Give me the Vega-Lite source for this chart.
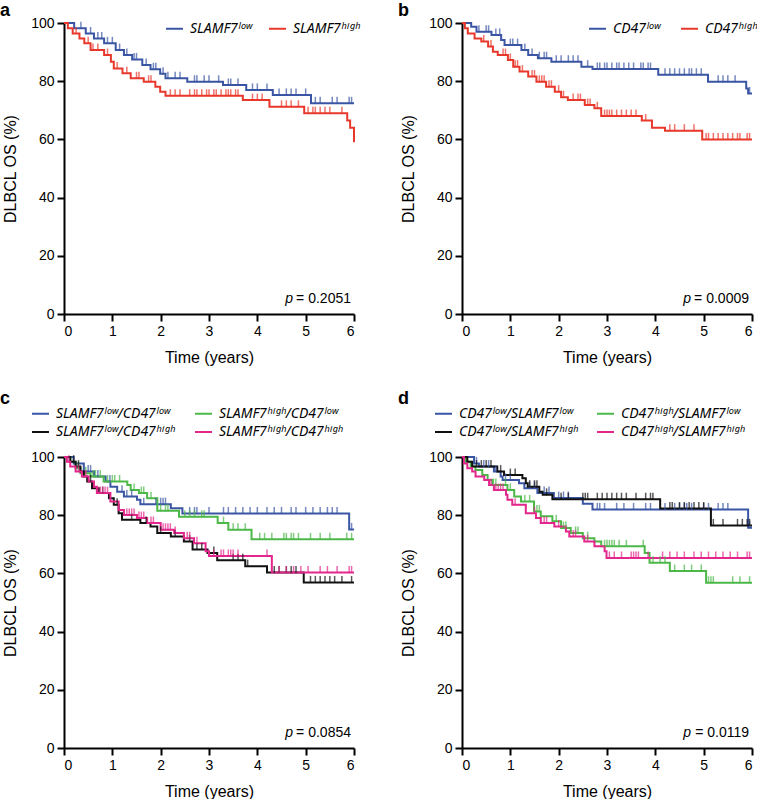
{
"$schema": "https://vega.github.io/schema/vega-lite/v6.json",
"background": "white",
"padding": {"left": 0, "top": 2, "right": 0, "bottom": 0},
"config": {
  "view": {"stroke": null},
  "font": "Liberation Sans",
  "axis": {"domainColor": "black", "domainWidth": 2, "tickColor": "black", "tickWidth": 2, "tickSize": 7, "labelFontSize": 14, "labelColor": "black", "labelPadding": 3, "titleFontSize": 16, "titleFontWeight": "normal", "titleColor": "black", "grid": false},
  "axisX": {"titlePadding": 11},
  "axisY": {"titlePadding": 12},
  "title": {"fontSize": 18, "fontWeight": "bold", "anchor": "start", "frame": "group", "color": "black", "offset": -4},
  "legend": {"labelFont": "Noto Sans", "labelFontSize": 14, "labelFontStyle": "italic", "labelColor": "black", "symbolType": "stroke", "symbolStrokeWidth": 2, "symbolSize": 289, "title": null, "padding": 0, "labelOffset": 6, "orient": "none", "labelLimit": 300},
  "line": {"interpolate": "step-after", "strokeWidth": 2},
  "tick": {"thickness": 1.5}
},
"columns": 2,
"bounds": "flush",
"spacing": {"row": 143, "column": 108},
"resolve": {"scale": {"color": "independent"}, "legend": {"color": "independent"}},
"concat": [
 {
  "width": 290, "height": 291,
  "title": {"text": "a", "dx": -64},
  "layer": [
   {"data": {"name": "a"}, "mark": {"type": "line", "interpolate": "step-after", "strokeWidth": 2},
    "encoding": {
     "x": {"field": "t", "type": "quantitative", "scale": {"domain": [0, 6], "nice": false}, "axis": {"values": [0,1,2,3,4,5,6], "title": "Time (years)"}},
     "y": {"field": "s", "type": "quantitative", "scale": {"domain": [0, 100], "nice": false}, "axis": {"values": [0,20,40,60,80,100], "title": "DLBCL OS (%)"}},
     "color": {"field": "g", "type": "nominal", "scale": {"domain": ["L","H"], "range": ["#3a55a4","#e8382b"]},
       "legend": {"legendX": 101, "legendY": -4, "direction": "horizontal", "columnPadding": 13, "labelExpr": "{'L':'SLAMF7ˡᵒʷ','H':'SLAMF7ʰⁱᵍʰ'}[datum.value]"}}
    }},
   {"data": {"name": "a_c"}, "mark": {"type": "tick", "orient": "vertical", "size": 7, "thickness": 1.5, "yOffset": -3},
    "encoding": {"x": {"field": "t", "type": "quantitative"}, "y": {"field": "s", "type": "quantitative"}, "color": {"field": "g", "type": "nominal", "legend": null}}},
   {"data": {"values": [{}]}, "mark": {"type": "text", "text": "= 0.2051", "align": "right", "baseline": "alphabetic", "dx": -3, "dy": -11, "fontSize": 14, "color": "black"},
    "encoding": {"x": {"datum": 6, "type": "quantitative"}, "y": {"datum": 0, "type": "quantitative"}}},
   {"data": {"values": [{}]}, "mark": {"type": "text", "text": "p", "align": "right", "baseline": "alphabetic", "dx": -61, "dy": -11, "fontSize": 14, "fontStyle": "italic", "color": "black"},
    "encoding": {"x": {"datum": 6, "type": "quantitative"}, "y": {"datum": 0, "type": "quantitative"}}}
  ]
 },
 {
  "width": 290, "height": 291,
  "title": {"text": "b", "dx": -64},
  "layer": [
   {"data": {"name": "b"}, "mark": {"type": "line", "interpolate": "step-after", "strokeWidth": 2},
    "encoding": {
     "x": {"field": "t", "type": "quantitative", "scale": {"domain": [0, 6], "nice": false}, "axis": {"values": [0,1,2,3,4,5,6], "title": "Time (years)"}},
     "y": {"field": "s", "type": "quantitative", "scale": {"domain": [0, 100], "nice": false}, "axis": {"values": [0,20,40,60,80,100], "title": "DLBCL OS (%)"}},
     "color": {"field": "g", "type": "nominal", "scale": {"domain": ["L","H"], "range": ["#3a55a4","#e8382b"]},
       "legend": {"legendX": 126, "legendY": -4, "direction": "horizontal", "columnPadding": 16, "labelExpr": "{'L':'CD47ˡᵒʷ','H':'CD47ʰⁱᵍʰ'}[datum.value]"}}
    }},
   {"data": {"name": "b_c"}, "mark": {"type": "tick", "orient": "vertical", "size": 7, "thickness": 1.5, "yOffset": -3},
    "encoding": {"x": {"field": "t", "type": "quantitative"}, "y": {"field": "s", "type": "quantitative"}, "color": {"field": "g", "type": "nominal", "legend": null}}},
   {"data": {"values": [{}]}, "mark": {"type": "text", "text": "= 0.0009", "align": "right", "baseline": "alphabetic", "dx": -3, "dy": -11, "fontSize": 14, "color": "black"},
    "encoding": {"x": {"datum": 6, "type": "quantitative"}, "y": {"datum": 0, "type": "quantitative"}}},
   {"data": {"values": [{}]}, "mark": {"type": "text", "text": "p", "align": "right", "baseline": "alphabetic", "dx": -61, "dy": -11, "fontSize": 14, "fontStyle": "italic", "color": "black"},
    "encoding": {"x": {"datum": 6, "type": "quantitative"}, "y": {"datum": 0, "type": "quantitative"}}}
  ]
 },
 {
  "width": 290, "height": 291,
  "title": {"text": "c", "dx": -64},
  "layer": [
   {"data": {"name": "c"}, "mark": {"type": "line", "interpolate": "step-after", "strokeWidth": 2},
    "encoding": {
     "x": {"field": "t", "type": "quantitative", "scale": {"domain": [0, 6], "nice": false}, "axis": {"values": [0,1,2,3,4,5,6], "title": "Time (years)"}},
     "y": {"field": "s", "type": "quantitative", "scale": {"domain": [0, 100], "nice": false}, "axis": {"values": [0,20,40,60,80,100], "title": "DLBCL OS (%)"}},
     "color": {"field": "g", "type": "nominal", "scale": {"domain": ["LL","LH","HL","HH"], "range": ["#3a55a4","#111111","#4cb848","#e2268b"]},
       "legend": {"legendX": -33, "legendY": -53, "columns": 2, "columnPadding": 16, "rowPadding": 1.5, "labelExpr": "{'LL':'SLAMF7ˡᵒʷ/CD47ˡᵒʷ','HL':'SLAMF7ʰⁱᵍʰ/CD47ˡᵒʷ','LH':'SLAMF7ˡᵒʷ/CD47ʰⁱᵍʰ','HH':'SLAMF7ʰⁱᵍʰ/CD47ʰⁱᵍʰ'}[datum.value]"}}
    }},
   {"data": {"name": "c_c"}, "mark": {"type": "tick", "orient": "vertical", "size": 7, "thickness": 1.5, "yOffset": -3},
    "encoding": {"x": {"field": "t", "type": "quantitative"}, "y": {"field": "s", "type": "quantitative"}, "color": {"field": "g", "type": "nominal", "legend": null}}},
   {"data": {"values": [{}]}, "mark": {"type": "text", "text": "= 0.0854", "align": "right", "baseline": "alphabetic", "dx": -3, "dy": -11, "fontSize": 14, "color": "black"},
    "encoding": {"x": {"datum": 6, "type": "quantitative"}, "y": {"datum": 0, "type": "quantitative"}}},
   {"data": {"values": [{}]}, "mark": {"type": "text", "text": "p", "align": "right", "baseline": "alphabetic", "dx": -61, "dy": -11, "fontSize": 14, "fontStyle": "italic", "color": "black"},
    "encoding": {"x": {"datum": 6, "type": "quantitative"}, "y": {"datum": 0, "type": "quantitative"}}}
  ]
 },
 {
  "width": 290, "height": 291,
  "title": {"text": "d", "dx": -64},
  "layer": [
   {"data": {"name": "d"}, "mark": {"type": "line", "interpolate": "step-after", "strokeWidth": 2},
    "encoding": {
     "x": {"field": "t", "type": "quantitative", "scale": {"domain": [0, 6], "nice": false}, "axis": {"values": [0,1,2,3,4,5,6], "title": "Time (years)"}},
     "y": {"field": "s", "type": "quantitative", "scale": {"domain": [0, 100], "nice": false}, "axis": {"values": [0,20,40,60,80,100], "title": "DLBCL OS (%)"}},
     "color": {"field": "g", "type": "nominal", "scale": {"domain": ["LL","LH","HL","HH"], "range": ["#3a55a4","#111111","#4cb848","#e2268b"]},
       "legend": {"legendX": -28, "legendY": -53, "columns": 2, "columnPadding": 15, "rowPadding": 1.5, "labelExpr": "{'LL':'CD47ˡᵒʷ/SLAMF7ˡᵒʷ','HL':'CD47ʰⁱᵍʰ/SLAMF7ˡᵒʷ','LH':'CD47ˡᵒʷ/SLAMF7ʰⁱᵍʰ','HH':'CD47ʰⁱᵍʰ/SLAMF7ʰⁱᵍʰ'}[datum.value]"}}
    }},
   {"data": {"name": "d_c"}, "mark": {"type": "tick", "orient": "vertical", "size": 7, "thickness": 1.5, "yOffset": -3},
    "encoding": {"x": {"field": "t", "type": "quantitative"}, "y": {"field": "s", "type": "quantitative"}, "color": {"field": "g", "type": "nominal", "legend": null}}},
   {"data": {"values": [{}]}, "mark": {"type": "text", "text": "= 0.0119", "align": "right", "baseline": "alphabetic", "dx": -3, "dy": -11, "fontSize": 14, "color": "black"},
    "encoding": {"x": {"datum": 6, "type": "quantitative"}, "y": {"datum": 0, "type": "quantitative"}}},
   {"data": {"values": [{}]}, "mark": {"type": "text", "text": "p", "align": "right", "baseline": "alphabetic", "dx": -61, "dy": -11, "fontSize": 14, "fontStyle": "italic", "color": "black"},
    "encoding": {"x": {"datum": 6, "type": "quantitative"}, "y": {"datum": 0, "type": "quantitative"}}}
  ]
 }
],
"datasets": {
 "a": [
  {"g":"L","t":0,"s":100},{"g":"L","t":0.21,"s":98.2},{"g":"L","t":0.45,"s":96.4},{"g":"L","t":0.62,"s":94.7},{"g":"L","t":0.83,"s":93.0},{"g":"L","t":1.07,"s":90.7},{"g":"L","t":1.24,"s":89.0},{"g":"L","t":1.41,"s":87.5},{"g":"L","t":1.62,"s":85.6},{"g":"L","t":1.79,"s":84.1},{"g":"L","t":1.99,"s":82.6},{"g":"L","t":2.1,"s":81.0},{"g":"L","t":2.55,"s":79.8},{"g":"L","t":3.29,"s":78.7},{"g":"L","t":3.77,"s":77.0},{"g":"L","t":4.32,"s":75.3},{"g":"L","t":5.11,"s":72.4},{"g":"L","t":6,"s":72.4},
  {"g":"H","t":0,"s":100},{"g":"H","t":0.08,"s":98.2},{"g":"H","t":0.18,"s":96.4},{"g":"H","t":0.32,"s":94.7},{"g":"H","t":0.42,"s":93.0},{"g":"H","t":0.55,"s":90.7},{"g":"H","t":0.83,"s":89.0},{"g":"H","t":0.97,"s":86.7},{"g":"H","t":1.03,"s":84.4},{"g":"H","t":1.21,"s":82.7},{"g":"H","t":1.38,"s":81.0},{"g":"H","t":1.65,"s":79.8},{"g":"H","t":1.89,"s":78.1},{"g":"H","t":1.99,"s":76.4},{"g":"H","t":2.1,"s":75.0},{"g":"H","t":3.7,"s":73.5},{"g":"H","t":4.25,"s":71.2},{"g":"H","t":4.97,"s":69.0},{"g":"H","t":5.86,"s":66.5},{"g":"H","t":5.92,"s":64.0},{"g":"H","t":6,"s":59.0}
 ],
 "a_c": [
  {"g":"L","t":0.35,"s":98.2},{"g":"L","t":0.55,"s":96.4},{"g":"L","t":0.7,"s":94.7},{"g":"L","t":0.78,"s":94.7},{"g":"L","t":0.9,"s":93.0},{"g":"L","t":1.0,"s":93.0},{"g":"L","t":1.15,"s":90.7},{"g":"L","t":1.3,"s":89.0},{"g":"L","t":1.45,"s":87.5},{"g":"L","t":1.5,"s":87.5},{"g":"L","t":1.7,"s":85.6},{"g":"L","t":1.85,"s":84.1},{"g":"L","t":1.9,"s":84.1},{"g":"L","t":2.05,"s":82.6},{"g":"L","t":2.15,"s":81.0},{"g":"L","t":2.3,"s":81.0},{"g":"L","t":2.4,"s":81.0},{"g":"L","t":2.7,"s":79.8},{"g":"L","t":2.75,"s":79.8},{"g":"L","t":2.9,"s":79.8},{"g":"L","t":3.0,"s":79.8},{"g":"L","t":3.2,"s":79.8},{"g":"L","t":3.4,"s":78.7},{"g":"L","t":3.45,"s":78.7},{"g":"L","t":3.6,"s":78.7},{"g":"L","t":3.9,"s":77.0},{"g":"L","t":4.0,"s":77.0},{"g":"L","t":4.2,"s":77.0},{"g":"L","t":4.45,"s":75.3},{"g":"L","t":4.6,"s":75.3},{"g":"L","t":4.7,"s":75.3},{"g":"L","t":4.8,"s":75.3},{"g":"L","t":5.0,"s":75.3},{"g":"L","t":5.2,"s":72.4},{"g":"L","t":5.3,"s":72.4},{"g":"L","t":5.55,"s":72.4},{"g":"L","t":5.65,"s":72.4},{"g":"L","t":5.9,"s":72.4},{"g":"L","t":5.95,"s":72.4},
  {"g":"H","t":0.25,"s":96.4},{"g":"H","t":0.5,"s":93.0},{"g":"H","t":0.6,"s":90.7},{"g":"H","t":0.7,"s":90.7},{"g":"H","t":0.9,"s":89.0},{"g":"H","t":1.1,"s":84.4},{"g":"H","t":1.3,"s":82.7},{"g":"H","t":1.5,"s":81.0},{"g":"H","t":1.55,"s":81.0},{"g":"H","t":1.75,"s":79.8},{"g":"H","t":1.8,"s":79.8},{"g":"H","t":2.2,"s":75.0},{"g":"H","t":2.3,"s":75.0},{"g":"H","t":2.4,"s":75.0},{"g":"H","t":2.6,"s":75.0},{"g":"H","t":2.7,"s":75.0},{"g":"H","t":2.75,"s":75.0},{"g":"H","t":2.85,"s":75.0},{"g":"H","t":2.95,"s":75.0},{"g":"H","t":3.0,"s":75.0},{"g":"H","t":3.1,"s":75.0},{"g":"H","t":3.15,"s":75.0},{"g":"H","t":3.25,"s":75.0},{"g":"H","t":3.35,"s":75.0},{"g":"H","t":3.4,"s":75.0},{"g":"H","t":3.45,"s":75.0},{"g":"H","t":3.55,"s":75.0},{"g":"H","t":3.6,"s":75.0},{"g":"H","t":3.9,"s":73.5},{"g":"H","t":4.0,"s":73.5},{"g":"H","t":4.1,"s":73.5},{"g":"H","t":4.5,"s":71.2},{"g":"H","t":4.6,"s":71.2},{"g":"H","t":4.7,"s":71.2},{"g":"H","t":4.85,"s":71.2},{"g":"H","t":5.05,"s":69.0},{"g":"H","t":5.15,"s":69.0},{"g":"H","t":5.2,"s":69.0},{"g":"H","t":5.3,"s":69.0},{"g":"H","t":5.4,"s":69.0},{"g":"H","t":5.5,"s":69.0},{"g":"H","t":5.75,"s":69.0}
 ],
 "b": [
  {"g":"L","t":0,"s":100},{"g":"L","t":0.19,"s":98.7},{"g":"L","t":0.3,"s":97.0},{"g":"L","t":0.61,"s":95.9},{"g":"L","t":0.81,"s":94.2},{"g":"L","t":0.88,"s":92.4},{"g":"L","t":1.23,"s":90.7},{"g":"L","t":1.37,"s":89.0},{"g":"L","t":1.57,"s":87.9},{"g":"L","t":1.85,"s":86.7},{"g":"L","t":2.47,"s":85.0},{"g":"L","t":2.7,"s":84.2},{"g":"L","t":4.06,"s":82.2},{"g":"L","t":5.09,"s":79.8},{"g":"L","t":5.88,"s":77.5},{"g":"L","t":5.92,"s":75.8},{"g":"L","t":6,"s":75.8},
  {"g":"H","t":0,"s":100},{"g":"H","t":0.06,"s":98.2},{"g":"H","t":0.12,"s":96.4},{"g":"H","t":0.26,"s":94.7},{"g":"H","t":0.4,"s":93.6},{"g":"H","t":0.54,"s":91.9},{"g":"H","t":0.64,"s":90.1},{"g":"H","t":0.74,"s":89.0},{"g":"H","t":0.95,"s":87.3},{"g":"H","t":1.06,"s":85.0},{"g":"H","t":1.19,"s":83.3},{"g":"H","t":1.37,"s":81.6},{"g":"H","t":1.54,"s":79.8},{"g":"H","t":1.74,"s":78.1},{"g":"H","t":1.92,"s":76.4},{"g":"H","t":2.05,"s":74.5},{"g":"H","t":2.19,"s":73.5},{"g":"H","t":2.54,"s":71.8},{"g":"H","t":2.74,"s":70.7},{"g":"H","t":2.88,"s":68.0},{"g":"H","t":3.72,"s":66.5},{"g":"H","t":3.93,"s":64.0},{"g":"H","t":4.2,"s":63.0},{"g":"H","t":4.97,"s":60.0},{"g":"H","t":6,"s":60.0}
 ],
 "b_c": [
  {"g":"L","t":0.35,"s":97.0},{"g":"L","t":0.5,"s":97.0},{"g":"L","t":0.55,"s":97.0},{"g":"L","t":0.7,"s":95.9},{"g":"L","t":0.78,"s":95.9},{"g":"L","t":1.0,"s":92.4},{"g":"L","t":1.05,"s":92.4},{"g":"L","t":1.15,"s":92.4},{"g":"L","t":1.3,"s":90.7},{"g":"L","t":1.45,"s":89.0},{"g":"L","t":1.6,"s":87.9},{"g":"L","t":1.7,"s":87.9},{"g":"L","t":1.75,"s":87.9},{"g":"L","t":1.95,"s":86.7},{"g":"L","t":2.05,"s":86.7},{"g":"L","t":2.2,"s":86.7},{"g":"L","t":2.3,"s":86.7},{"g":"L","t":2.4,"s":86.7},{"g":"L","t":2.6,"s":85.0},{"g":"L","t":2.8,"s":84.2},{"g":"L","t":2.85,"s":84.2},{"g":"L","t":2.95,"s":84.2},{"g":"L","t":3.0,"s":84.2},{"g":"L","t":3.1,"s":84.2},{"g":"L","t":3.2,"s":84.2},{"g":"L","t":3.25,"s":84.2},{"g":"L","t":3.35,"s":84.2},{"g":"L","t":3.45,"s":84.2},{"g":"L","t":3.55,"s":84.2},{"g":"L","t":3.7,"s":84.2},{"g":"L","t":3.75,"s":84.2},{"g":"L","t":3.85,"s":84.2},{"g":"L","t":3.9,"s":84.2},{"g":"L","t":4.2,"s":82.2},{"g":"L","t":4.3,"s":82.2},{"g":"L","t":4.4,"s":82.2},{"g":"L","t":4.5,"s":82.2},{"g":"L","t":4.6,"s":82.2},{"g":"L","t":4.7,"s":82.2},{"g":"L","t":4.75,"s":82.2},{"g":"L","t":4.85,"s":82.2},{"g":"L","t":4.95,"s":82.2},{"g":"L","t":5.3,"s":79.8},{"g":"L","t":5.4,"s":79.8},{"g":"L","t":5.5,"s":79.8},{"g":"L","t":5.65,"s":79.8},{"g":"L","t":5.95,"s":75.8},
  {"g":"H","t":0.45,"s":93.6},{"g":"H","t":0.6,"s":91.9},{"g":"H","t":0.85,"s":89.0},{"g":"H","t":0.9,"s":89.0},{"g":"H","t":1.0,"s":87.3},{"g":"H","t":1.1,"s":85.0},{"g":"H","t":1.15,"s":85.0},{"g":"H","t":1.25,"s":83.3},{"g":"H","t":1.45,"s":81.6},{"g":"H","t":1.5,"s":81.6},{"g":"H","t":1.6,"s":79.8},{"g":"H","t":1.65,"s":79.8},{"g":"H","t":1.7,"s":79.8},{"g":"H","t":1.8,"s":78.1},{"g":"H","t":1.85,"s":78.1},{"g":"H","t":2.0,"s":76.4},{"g":"H","t":2.1,"s":74.5},{"g":"H","t":2.3,"s":73.5},{"g":"H","t":2.4,"s":73.5},{"g":"H","t":2.45,"s":73.5},{"g":"H","t":2.6,"s":71.8},{"g":"H","t":2.65,"s":71.8},{"g":"H","t":2.8,"s":70.7},{"g":"H","t":2.95,"s":68.0},{"g":"H","t":3.0,"s":68.0},{"g":"H","t":3.05,"s":68.0},{"g":"H","t":3.1,"s":68.0},{"g":"H","t":3.2,"s":68.0},{"g":"H","t":3.3,"s":68.0},{"g":"H","t":3.4,"s":68.0},{"g":"H","t":3.5,"s":68.0},{"g":"H","t":3.6,"s":68.0},{"g":"H","t":3.8,"s":66.5},{"g":"H","t":4.3,"s":63.0},{"g":"H","t":4.4,"s":63.0},{"g":"H","t":4.6,"s":63.0},{"g":"H","t":4.8,"s":63.0},{"g":"H","t":5.05,"s":60.0},{"g":"H","t":5.1,"s":60.0},{"g":"H","t":5.2,"s":60.0},{"g":"H","t":5.3,"s":60.0},{"g":"H","t":5.4,"s":60.0},{"g":"H","t":5.5,"s":60.0},{"g":"H","t":5.6,"s":60.0},{"g":"H","t":5.7,"s":60.0},{"g":"H","t":5.75,"s":60.0},{"g":"H","t":5.9,"s":60.0},{"g":"H","t":5.95,"s":60.0}
 ],
 "c": [
  {"g":"LL","t":0,"s":100},{"g":"LL","t":0.2,"s":97.8},{"g":"LL","t":0.41,"s":95.0},{"g":"LL","t":0.62,"s":93.3},{"g":"LL","t":0.86,"s":91.6},{"g":"LL","t":0.96,"s":89.8},{"g":"LL","t":1.1,"s":88.1},{"g":"LL","t":1.24,"s":86.4},{"g":"LL","t":1.51,"s":85.3},{"g":"LL","t":1.58,"s":83.8},{"g":"LL","t":2.21,"s":82.4},{"g":"LL","t":2.45,"s":80.6},{"g":"LL","t":5.9,"s":75.1},{"g":"LL","t":6,"s":75.1},
  {"g":"HL","t":0,"s":100},{"g":"HL","t":0.13,"s":98.4},{"g":"HL","t":0.24,"s":96.1},{"g":"HL","t":0.34,"s":94.4},{"g":"HL","t":0.55,"s":93.3},{"g":"HL","t":0.82,"s":91.6},{"g":"HL","t":1.31,"s":90.4},{"g":"HL","t":1.38,"s":88.7},{"g":"HL","t":1.55,"s":87.6},{"g":"HL","t":1.72,"s":85.8},{"g":"HL","t":1.93,"s":81.5},{"g":"HL","t":2.38,"s":79.5},{"g":"HL","t":3.18,"s":77.3},{"g":"HL","t":3.4,"s":75.0},{"g":"HL","t":3.88,"s":71.7},{"g":"HL","t":6,"s":71.7},
  {"g":"LH","t":0,"s":100},{"g":"LH","t":0.13,"s":98.4},{"g":"LH","t":0.24,"s":96.7},{"g":"LH","t":0.34,"s":95.0},{"g":"LH","t":0.41,"s":93.3},{"g":"LH","t":0.48,"s":91.6},{"g":"LH","t":0.58,"s":89.3},{"g":"LH","t":0.72,"s":87.6},{"g":"LH","t":0.93,"s":85.8},{"g":"LH","t":1.03,"s":83.6},{"g":"LH","t":1.13,"s":80.7},{"g":"LH","t":1.2,"s":78.4},{"g":"LH","t":1.58,"s":77.3},{"g":"LH","t":1.79,"s":76.1},{"g":"LH","t":1.93,"s":73.9},{"g":"LH","t":2.21,"s":72.7},{"g":"LH","t":2.48,"s":71.0},{"g":"LH","t":2.66,"s":68.2},{"g":"LH","t":2.97,"s":67.0},{"g":"LH","t":3.17,"s":64.5},{"g":"LH","t":3.75,"s":62.5},{"g":"LH","t":4.2,"s":60.3},{"g":"LH","t":4.96,"s":56.9},{"g":"LH","t":6,"s":56.9},
  {"g":"HH","t":0,"s":100},{"g":"HH","t":0.06,"s":98.4},{"g":"HH","t":0.13,"s":96.7},{"g":"HH","t":0.24,"s":95.0},{"g":"HH","t":0.37,"s":93.3},{"g":"HH","t":0.51,"s":91.6},{"g":"HH","t":0.62,"s":89.8},{"g":"HH","t":0.68,"s":87.6},{"g":"HH","t":0.96,"s":84.7},{"g":"HH","t":1.13,"s":81.8},{"g":"HH","t":1.24,"s":80.1},{"g":"HH","t":1.51,"s":79.0},{"g":"HH","t":1.72,"s":77.3},{"g":"HH","t":2.0,"s":75.0},{"g":"HH","t":2.28,"s":73.9},{"g":"HH","t":2.48,"s":72.1},{"g":"HH","t":2.69,"s":70.4},{"g":"HH","t":2.93,"s":67.6},{"g":"HH","t":3.0,"s":66.0},{"g":"HH","t":4.3,"s":60.3},{"g":"HH","t":6,"s":60.3}
 ],
 "c_c": [
  {"g":"LL","t":0.5,"s":95.0},{"g":"LL","t":0.55,"s":95.0},{"g":"LL","t":0.7,"s":93.3},{"g":"LL","t":0.95,"s":91.6},{"g":"LL","t":1.2,"s":88.1},{"g":"LL","t":1.3,"s":86.4},{"g":"LL","t":1.4,"s":86.4},{"g":"LL","t":1.65,"s":83.8},{"g":"LL","t":1.9,"s":83.8},{"g":"LL","t":2.0,"s":83.8},{"g":"LL","t":2.05,"s":83.8},{"g":"LL","t":2.1,"s":83.8},{"g":"LL","t":2.6,"s":80.6},{"g":"LL","t":2.7,"s":80.6},{"g":"LL","t":2.75,"s":80.6},{"g":"LL","t":3.0,"s":80.6},{"g":"LL","t":3.3,"s":80.6},{"g":"LL","t":3.4,"s":80.6},{"g":"LL","t":3.55,"s":80.6},{"g":"LL","t":3.7,"s":80.6},{"g":"LL","t":3.85,"s":80.6},{"g":"LL","t":4.0,"s":80.6},{"g":"LL","t":4.2,"s":80.6},{"g":"LL","t":4.35,"s":80.6},{"g":"LL","t":4.5,"s":80.6},{"g":"LL","t":4.7,"s":80.6},{"g":"LL","t":4.8,"s":80.6},{"g":"LL","t":5.0,"s":80.6},{"g":"LL","t":5.15,"s":80.6},{"g":"LL","t":5.3,"s":80.6},{"g":"LL","t":5.45,"s":80.6},{"g":"LL","t":5.55,"s":80.6},{"g":"LL","t":5.65,"s":80.6},{"g":"LL","t":5.95,"s":75.1},
  {"g":"HL","t":0.3,"s":96.1},{"g":"HL","t":0.45,"s":94.4},{"g":"HL","t":0.6,"s":93.3},{"g":"HL","t":0.65,"s":93.3},{"g":"HL","t":0.75,"s":93.3},{"g":"HL","t":0.9,"s":91.6},{"g":"HL","t":1.0,"s":91.6},{"g":"HL","t":1.05,"s":91.6},{"g":"HL","t":1.15,"s":91.6},{"g":"HL","t":1.45,"s":88.7},{"g":"HL","t":1.6,"s":87.6},{"g":"HL","t":1.65,"s":87.6},{"g":"HL","t":1.8,"s":85.8},{"g":"HL","t":2.0,"s":81.5},{"g":"HL","t":2.1,"s":81.5},{"g":"HL","t":2.15,"s":81.5},{"g":"HL","t":2.5,"s":79.5},{"g":"HL","t":2.6,"s":79.5},{"g":"HL","t":2.7,"s":79.5},{"g":"HL","t":2.85,"s":79.5},{"g":"HL","t":2.9,"s":79.5},{"g":"HL","t":3.3,"s":77.3},{"g":"HL","t":3.5,"s":75.0},{"g":"HL","t":3.6,"s":75.0},{"g":"HL","t":3.75,"s":75.0},{"g":"HL","t":4.05,"s":71.7},{"g":"HL","t":4.15,"s":71.7},{"g":"HL","t":4.3,"s":71.7},{"g":"HL","t":4.55,"s":71.7},{"g":"HL","t":4.6,"s":71.7},{"g":"HL","t":4.7,"s":71.7},{"g":"HL","t":4.75,"s":71.7},{"g":"HL","t":4.85,"s":71.7},{"g":"HL","t":5.1,"s":71.7},{"g":"HL","t":5.3,"s":71.7},{"g":"HL","t":5.5,"s":71.7},{"g":"HL","t":5.85,"s":71.7},{"g":"HL","t":5.95,"s":71.7},
  {"g":"LH","t":0.2,"s":98.4},{"g":"LH","t":0.3,"s":96.7},{"g":"LH","t":0.55,"s":91.6},{"g":"LH","t":0.8,"s":87.6},{"g":"LH","t":1.1,"s":83.6},{"g":"LH","t":1.4,"s":78.4},{"g":"LH","t":1.7,"s":77.3},{"g":"LH","t":2.0,"s":73.9},{"g":"LH","t":2.3,"s":72.7},{"g":"LH","t":2.6,"s":71.0},{"g":"LH","t":2.75,"s":68.2},{"g":"LH","t":2.85,"s":68.2},{"g":"LH","t":3.1,"s":67.0},{"g":"LH","t":3.5,"s":64.5},{"g":"LH","t":3.6,"s":64.5},{"g":"LH","t":3.7,"s":64.5},{"g":"LH","t":3.8,"s":62.5},{"g":"LH","t":4.35,"s":60.3},{"g":"LH","t":4.45,"s":60.3},{"g":"LH","t":4.6,"s":60.3},{"g":"LH","t":4.7,"s":60.3},{"g":"LH","t":4.8,"s":60.3},{"g":"LH","t":5.1,"s":56.9},{"g":"LH","t":5.2,"s":56.9},{"g":"LH","t":5.3,"s":56.9},{"g":"LH","t":5.4,"s":56.9},{"g":"LH","t":5.5,"s":56.9},{"g":"LH","t":5.6,"s":56.9},{"g":"LH","t":5.75,"s":56.9},{"g":"LH","t":5.95,"s":56.9},
  {"g":"HH","t":0.1,"s":98.4},{"g":"HH","t":0.3,"s":95.0},{"g":"HH","t":0.45,"s":93.3},{"g":"HH","t":0.7,"s":87.6},{"g":"HH","t":0.75,"s":87.6},{"g":"HH","t":0.8,"s":87.6},{"g":"HH","t":0.85,"s":87.6},{"g":"HH","t":0.9,"s":87.6},{"g":"HH","t":1.3,"s":80.1},{"g":"HH","t":1.35,"s":80.1},{"g":"HH","t":1.4,"s":80.1},{"g":"HH","t":1.45,"s":80.1},{"g":"HH","t":1.55,"s":79.0},{"g":"HH","t":1.6,"s":79.0},{"g":"HH","t":1.65,"s":79.0},{"g":"HH","t":1.8,"s":77.3},{"g":"HH","t":1.85,"s":77.3},{"g":"HH","t":2.05,"s":75.0},{"g":"HH","t":2.1,"s":75.0},{"g":"HH","t":2.15,"s":75.0},{"g":"HH","t":2.2,"s":75.0},{"g":"HH","t":2.3,"s":73.9},{"g":"HH","t":2.55,"s":72.1},{"g":"HH","t":2.6,"s":72.1},{"g":"HH","t":2.75,"s":70.4},{"g":"HH","t":3.1,"s":66.0},{"g":"HH","t":3.25,"s":66.0},{"g":"HH","t":3.3,"s":66.0},{"g":"HH","t":3.4,"s":66.0},{"g":"HH","t":3.45,"s":66.0},{"g":"HH","t":3.5,"s":66.0},{"g":"HH","t":3.6,"s":66.0},{"g":"HH","t":4.2,"s":66.0},{"g":"HH","t":4.45,"s":60.3},{"g":"HH","t":4.6,"s":60.3},{"g":"HH","t":4.75,"s":60.3},{"g":"HH","t":4.9,"s":60.3},{"g":"HH","t":5.05,"s":60.3},{"g":"HH","t":5.3,"s":60.3},{"g":"HH","t":5.45,"s":60.3},{"g":"HH","t":5.65,"s":60.3},{"g":"HH","t":5.9,"s":60.3},{"g":"HH","t":5.95,"s":60.3}
 ],
 "d": [
  {"g":"LL","t":0,"s":100},{"g":"LL","t":0.25,"s":97.8},{"g":"LL","t":0.35,"s":96.7},{"g":"LL","t":0.66,"s":95.0},{"g":"LL","t":0.8,"s":93.3},{"g":"LL","t":0.84,"s":92.1},{"g":"LL","t":1.18,"s":91.0},{"g":"LL","t":1.29,"s":89.3},{"g":"LL","t":1.56,"s":87.6},{"g":"LL","t":1.9,"s":85.9},{"g":"LL","t":2.5,"s":83.9},{"g":"LL","t":2.7,"s":82.0},{"g":"LL","t":5.92,"s":75.7},{"g":"LL","t":6,"s":75.7},
  {"g":"HL","t":0,"s":100},{"g":"HL","t":0.08,"s":98.4},{"g":"HL","t":0.18,"s":96.7},{"g":"HL","t":0.28,"s":95.5},{"g":"HL","t":0.42,"s":93.8},{"g":"HL","t":0.53,"s":92.1},{"g":"HL","t":0.63,"s":90.4},{"g":"HL","t":0.94,"s":88.7},{"g":"HL","t":1.08,"s":86.4},{"g":"HL","t":1.22,"s":84.7},{"g":"HL","t":1.49,"s":81.3},{"g":"HL","t":1.63,"s":79.6},{"g":"HL","t":1.87,"s":77.9},{"g":"HL","t":2.05,"s":75.6},{"g":"HL","t":2.25,"s":73.9},{"g":"HL","t":2.5,"s":72.1},{"g":"HL","t":2.74,"s":71.0},{"g":"HL","t":2.88,"s":69.3},{"g":"HL","t":3.78,"s":67.0},{"g":"HL","t":3.88,"s":63.7},{"g":"HL","t":4.3,"s":60.8},{"g":"HL","t":5.05,"s":56.8},{"g":"HL","t":6,"s":56.8},
  {"g":"LH","t":0,"s":100},{"g":"LH","t":0.11,"s":98.4},{"g":"LH","t":0.21,"s":96.7},{"g":"LH","t":0.73,"s":95.0},{"g":"LH","t":0.87,"s":93.8},{"g":"LH","t":1.25,"s":92.7},{"g":"LH","t":1.32,"s":91.0},{"g":"LH","t":1.36,"s":89.8},{"g":"LH","t":1.6,"s":88.1},{"g":"LH","t":1.67,"s":87.0},{"g":"LH","t":1.87,"s":85.5},{"g":"LH","t":4.1,"s":82.3},{"g":"LH","t":5.15,"s":76.5},{"g":"LH","t":6,"s":76.5},
  {"g":"HH","t":0,"s":100},{"g":"HH","t":0.04,"s":97.8},{"g":"HH","t":0.11,"s":96.1},{"g":"HH","t":0.21,"s":95.0},{"g":"HH","t":0.28,"s":93.3},{"g":"HH","t":0.46,"s":92.1},{"g":"HH","t":0.56,"s":90.4},{"g":"HH","t":0.66,"s":88.7},{"g":"HH","t":0.91,"s":87.0},{"g":"HH","t":0.94,"s":85.3},{"g":"HH","t":1.04,"s":83.6},{"g":"HH","t":1.32,"s":80.7},{"g":"HH","t":1.53,"s":79.0},{"g":"HH","t":1.63,"s":77.3},{"g":"HH","t":1.91,"s":76.1},{"g":"HH","t":2.15,"s":74.4},{"g":"HH","t":2.22,"s":72.7},{"g":"HH","t":2.53,"s":71.0},{"g":"HH","t":2.74,"s":69.3},{"g":"HH","t":2.95,"s":67.6},{"g":"HH","t":2.99,"s":65.3},{"g":"HH","t":6,"s":65.3}
 ],
 "d_c": [
  {"g":"LL","t":0.3,"s":97.8},{"g":"LL","t":0.45,"s":96.7},{"g":"LL","t":0.55,"s":96.7},{"g":"LL","t":0.7,"s":95.0},{"g":"LL","t":0.9,"s":92.1},{"g":"LL","t":1.0,"s":92.1},{"g":"LL","t":1.4,"s":89.3},{"g":"LL","t":1.5,"s":89.3},{"g":"LL","t":1.7,"s":87.6},{"g":"LL","t":1.8,"s":87.6},{"g":"LL","t":2.0,"s":85.9},{"g":"LL","t":2.1,"s":85.9},{"g":"LL","t":2.2,"s":85.9},{"g":"LL","t":2.8,"s":82.0},{"g":"LL","t":2.85,"s":82.0},{"g":"LL","t":2.95,"s":82.0},{"g":"LL","t":3.2,"s":82.0},{"g":"LL","t":3.35,"s":82.0},{"g":"LL","t":3.55,"s":82.0},{"g":"LL","t":3.8,"s":82.0},{"g":"LL","t":3.9,"s":82.0},{"g":"LL","t":4.2,"s":82.0},{"g":"LL","t":4.4,"s":82.0},{"g":"LL","t":4.5,"s":82.0},{"g":"LL","t":4.6,"s":82.0},{"g":"LL","t":4.65,"s":82.0},{"g":"LL","t":4.75,"s":82.0},{"g":"LL","t":5.0,"s":82.0},{"g":"LL","t":5.1,"s":82.0},{"g":"LL","t":5.3,"s":82.0},{"g":"LL","t":5.4,"s":82.0},{"g":"LL","t":5.5,"s":82.0},{"g":"LL","t":5.95,"s":75.7},
  {"g":"HL","t":0.65,"s":90.4},{"g":"HL","t":0.7,"s":90.4},{"g":"HL","t":0.9,"s":90.4},{"g":"HL","t":1.0,"s":88.7},{"g":"HL","t":1.3,"s":84.7},{"g":"HL","t":1.4,"s":84.7},{"g":"HL","t":1.55,"s":81.3},{"g":"HL","t":1.6,"s":81.3},{"g":"HL","t":1.95,"s":77.9},{"g":"HL","t":2.1,"s":75.6},{"g":"HL","t":2.15,"s":75.6},{"g":"HL","t":2.35,"s":73.9},{"g":"HL","t":2.4,"s":73.9},{"g":"HL","t":2.6,"s":72.1},{"g":"HL","t":2.95,"s":69.3},{"g":"HL","t":3.0,"s":69.3},{"g":"HL","t":3.05,"s":69.3},{"g":"HL","t":3.1,"s":69.3},{"g":"HL","t":3.15,"s":69.3},{"g":"HL","t":3.25,"s":69.3},{"g":"HL","t":3.4,"s":69.3},{"g":"HL","t":3.75,"s":69.3},{"g":"HL","t":3.95,"s":63.7},{"g":"HL","t":4.1,"s":63.7},{"g":"HL","t":4.2,"s":63.7},{"g":"HL","t":4.4,"s":60.8},{"g":"HL","t":4.6,"s":60.8},{"g":"HL","t":4.75,"s":60.8},{"g":"HL","t":4.95,"s":60.8},{"g":"HL","t":5.1,"s":56.8},{"g":"HL","t":5.15,"s":56.8},{"g":"HL","t":5.2,"s":56.8},{"g":"HL","t":5.6,"s":56.8},{"g":"HL","t":5.75,"s":56.8},{"g":"HL","t":5.95,"s":56.8},
  {"g":"LH","t":0.3,"s":96.7},{"g":"LH","t":0.4,"s":96.7},{"g":"LH","t":0.5,"s":96.7},{"g":"LH","t":0.6,"s":96.7},{"g":"LH","t":0.8,"s":95.0},{"g":"LH","t":1.0,"s":93.8},{"g":"LH","t":1.1,"s":93.8},{"g":"LH","t":1.4,"s":89.8},{"g":"LH","t":1.5,"s":89.8},{"g":"LH","t":1.55,"s":89.8},{"g":"LH","t":1.75,"s":87.0},{"g":"LH","t":2.05,"s":85.5},{"g":"LH","t":2.2,"s":85.5},{"g":"LH","t":2.5,"s":85.5},{"g":"LH","t":2.55,"s":85.5},{"g":"LH","t":2.6,"s":85.5},{"g":"LH","t":2.8,"s":85.5},{"g":"LH","t":2.9,"s":85.5},{"g":"LH","t":3.0,"s":85.5},{"g":"LH","t":3.1,"s":85.5},{"g":"LH","t":3.2,"s":85.5},{"g":"LH","t":3.3,"s":85.5},{"g":"LH","t":3.4,"s":85.5},{"g":"LH","t":3.6,"s":85.5},{"g":"LH","t":3.8,"s":85.5},{"g":"LH","t":3.9,"s":85.5},{"g":"LH","t":3.95,"s":85.5},{"g":"LH","t":4.3,"s":82.3},{"g":"LH","t":4.35,"s":82.3},{"g":"LH","t":4.5,"s":82.3},{"g":"LH","t":4.6,"s":82.3},{"g":"LH","t":4.7,"s":82.3},{"g":"LH","t":4.8,"s":82.3},{"g":"LH","t":4.9,"s":82.3},{"g":"LH","t":5.0,"s":82.3},{"g":"LH","t":5.2,"s":76.5},{"g":"LH","t":5.4,"s":76.5},{"g":"LH","t":5.7,"s":76.5},{"g":"LH","t":5.8,"s":76.5},{"g":"LH","t":5.9,"s":76.5},{"g":"LH","t":5.95,"s":76.5},
  {"g":"HH","t":0.6,"s":90.4},{"g":"HH","t":0.7,"s":88.7},{"g":"HH","t":0.75,"s":88.7},{"g":"HH","t":0.8,"s":88.7},{"g":"HH","t":0.85,"s":88.7},{"g":"HH","t":1.1,"s":83.6},{"g":"HH","t":1.5,"s":80.7},{"g":"HH","t":1.7,"s":77.3},{"g":"HH","t":1.75,"s":77.3},{"g":"HH","t":2.0,"s":76.1},{"g":"HH","t":2.3,"s":72.7},{"g":"HH","t":2.35,"s":72.7},{"g":"HH","t":2.6,"s":71.0},{"g":"HH","t":3.05,"s":65.3},{"g":"HH","t":3.15,"s":65.3},{"g":"HH","t":3.3,"s":65.3},{"g":"HH","t":3.5,"s":65.3},{"g":"HH","t":3.55,"s":65.3},{"g":"HH","t":3.6,"s":65.3},{"g":"HH","t":3.65,"s":65.3},{"g":"HH","t":3.85,"s":65.3},{"g":"HH","t":4.15,"s":65.3},{"g":"HH","t":4.3,"s":65.3},{"g":"HH","t":4.45,"s":65.3},{"g":"HH","t":4.6,"s":65.3},{"g":"HH","t":4.8,"s":65.3},{"g":"HH","t":4.95,"s":65.3},{"g":"HH","t":5.1,"s":65.3},{"g":"HH","t":5.25,"s":65.3},{"g":"HH","t":5.4,"s":65.3},{"g":"HH","t":5.55,"s":65.3},{"g":"HH","t":5.7,"s":65.3},{"g":"HH","t":5.9,"s":65.3},{"g":"HH","t":5.95,"s":65.3}
 ]
}
}
